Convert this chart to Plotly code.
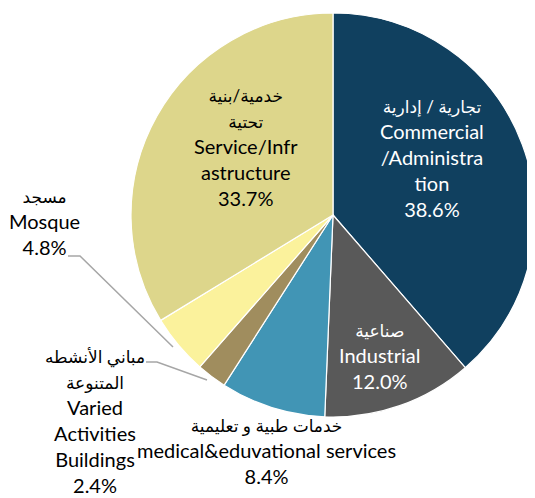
import plotly.graph_objects as go

# the page body keeps its default 8px margin, so the figure is offset by 8px
OFF = 8
W, H = 535 - OFF, 498 - OFF

# slice data, clockwise from 12 o'clock
categories = ["Commercial/Administration", "Industrial", "medical&eduvational services",
              "Varied Activities Buildings", "Mosque", "Service/Infrastructure"]
shares = [38.6, 12.0, 8.4, 2.4, 4.8, 33.7]
colors = ["#10405F", "#595959", "#4195B5", "#A08D5E", "#FBF29C", "#DDD68B"]

arabic_lines = [
    ["تجارية / إدارية"],
    ["صناعية"],
    ["خدمات طبية و تعليمية"],
    ["مباني الأنشطه", "المتنوعة"],
    ["مسجد"],
    ["خدمية/بنية", "تحتية"],
]
english_lines = [
    ["Commercial", "/Administra", "tion"],
    ["Industrial"],
    ["medical&eduvational services"],
    ["Varied", "Activities", "Buildings"],
    ["Mosque"],
    ["Service/Infr", "astructure"],
]
# label block centres in page pixels (x, y) and text colour
label_pos = [(432, 159), (380, 356), (266, 451), (95, 421), (44, 222), (246, 147)]
label_col = ["white", "white", "black", "black", "black", "black"]


def px(x, y):
    return (x - OFF) / W, 1 - (y - OFF) / H


fig = go.Figure(go.Pie(
    labels=categories,
    values=shares,
    sort=False,
    direction="clockwise",
    rotation=0,
    marker=dict(colors=colors, line=dict(color="white", width=1.2)),
    textinfo="none",
    hoverinfo="label+percent",
    domain=dict(x=[0.2334, 1.0], y=[0.1653, 0.9898]),
    showlegend=False,
))

for ar, en, val, (cx, cy), col in zip(arabic_lines, english_lines, shares, label_pos, label_col):
    xx, yy = px(cx, cy)
    ar_txt = [f"<span style='font-size:17px'>{t}</span>" for t in ar]
    fig.add_annotation(
        x=xx, y=yy, xref="paper", yref="paper",
        text="<br>".join(ar_txt + en + [f"{val:.1f}%"]),
        showarrow=False, xanchor="center", yanchor="middle", align="center",
        font=dict(family="Lato, 'DejaVu Sans', sans-serif", size=20, color=col),
    )

# leader lines for the small outside slices
leaders = [
    [(68, 256), (80, 256), (173, 347)],
    [(146, 362), (157, 362), (207, 380)],
]
for pts in leaders:
    path = "M " + " L ".join(f"{px(x, y)[0]} {px(x, y)[1]}" for x, y in pts)
    fig.add_shape(type="path", path=path, xref="paper", yref="paper",
                  line=dict(color="#A6A6A6", width=1.5))

fig.update_layout(
    width=W, height=H,
    margin=dict(l=0, r=0, t=0, b=0),
    paper_bgcolor="white",
    plot_bgcolor="white",
)
fig.write_html("out.html")
